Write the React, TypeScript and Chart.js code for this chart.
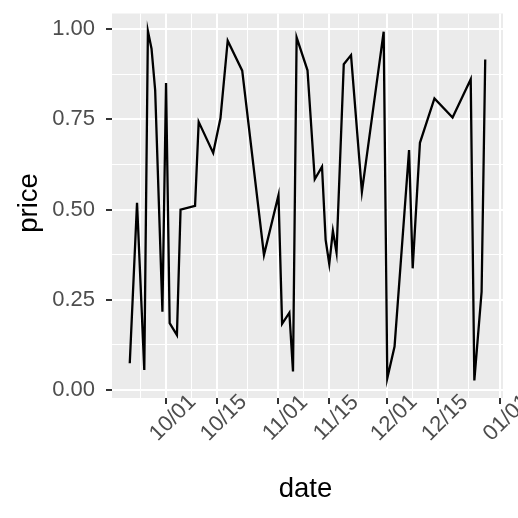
import React, { useEffect, useRef } from "react";
import { Chart, registerables } from "chart.js";

Chart.register(...registerables);

// ---- data ----
const dates: string[] = [
  "2023-09-21", "2023-09-23", "2023-09-25", "2023-09-26", "2023-09-27", "2023-09-28",
  "2023-09-30", "2023-10-01", "2023-10-02", "2023-10-04", "2023-10-05", "2023-10-09",
  "2023-10-10", "2023-10-14", "2023-10-16", "2023-10-18", "2023-10-22", "2023-10-28",
  "2023-11-01", "2023-11-02", "2023-11-04", "2023-11-05", "2023-11-06", "2023-11-09",
  "2023-11-11", "2023-11-13", "2023-11-14", "2023-11-15", "2023-11-16", "2023-11-17",
  "2023-11-19", "2023-11-21", "2023-11-24", "2023-11-30", "2023-12-01", "2023-12-03",
  "2023-12-07", "2023-12-08", "2023-12-10", "2023-12-14", "2023-12-19", "2023-12-24",
  "2023-12-25", "2023-12-27", "2023-12-28",
];
const prices: number[] = [
  0.074, 0.519, 0.055, 0.995, 0.946, 0.831,
  0.217, 0.851, 0.185, 0.152, 0.500, 0.510,
  0.743, 0.657, 0.753, 0.968, 0.885, 0.374,
  0.540, 0.183, 0.214, 0.051, 0.977, 0.886,
  0.584, 0.619, 0.416, 0.349, 0.441, 0.381,
  0.903, 0.928, 0.549, 0.993, 0.032, 0.120,
  0.665, 0.337, 0.685, 0.808, 0.755, 0.861,
  0.026, 0.272, 0.916,
];
const xMajorDates: string[] = [
  "2023-10-01", "2023-10-15", "2023-11-01", "2023-11-15", "2023-12-01", "2023-12-15", "2024-01-01",
];
const xMajorLabels: string[] = ["10/01", "10/15", "11/01", "11/15", "12/01", "12/15", "01/01"];
const yMajor: number[] = [0, 0.25, 0.5, 0.75, 1.0];
const yMinor: number[] = [0.125, 0.375, 0.625, 0.875];
const xTitle = "date";
const yTitle = "price";

const FONT = '"Liberation Sans", Arial, Helvetica, sans-serif';
const BASE = Date.UTC(2023, 9, 1);
const toDay = (s: string) => {
  const [y, m, d] = s.split("-").map(Number);
  return (Date.UTC(y, m - 1, d) - BASE) / 86400000;
};

export default function App() {
  const ref = useRef<HTMLCanvasElement>(null);
  useEffect(() => {
    document.body.style.margin = "0";
    const canvas = ref.current!;
    const xs = dates.map(toDay);
    const xMajor = xMajorDates.map(toDay);
    // ggplot-like minor breaks: midpoints, extended by the first break spacing
    const bd = xMajor[1] - xMajor[0];
    const ext = [xMajor[0] - bd, ...xMajor];
    const xMinor: number[] = [];
    for (let i = 0; i < ext.length - 1; i++) xMinor.push((ext[i] + ext[i + 1]) / 2);

    const xmin0 = Math.min(...xs), xmax0 = Math.max(...xs);
    const ymin0 = Math.min(...prices), ymax0 = Math.max(...prices);
    const xe = (xmax0 - xmin0) * 0.05, ye = (ymax0 - ymin0) * 0.05;
    const xMin = xmin0 - xe, xMax = xmax0 + xe, yMin = ymin0 - ye, yMax = ymax0 + ye;

    const isMajor = (arr: number[], v: number) => arr.some((a) => Math.abs(a - v) < 1e-6);

    const bgPlugin = {
      id: "panelbg",
      beforeDraw(chart: any) {
        const { ctx, chartArea: a } = chart;
        ctx.save();
        ctx.fillStyle = "#ebebeb";
        ctx.fillRect(a.left, a.top, a.right - a.left, a.bottom - a.top);
        ctx.restore();
      },
      afterDraw(chart: any) {
        const { ctx, chartArea: a } = chart;
        const xs = chart.scales.x;
        ctx.save();
        ctx.fillStyle = "#4d4d4d";
        ctx.font = `22px ${FONT}`;
        ctx.textAlign = "center";
        ctx.textBaseline = "middle";
        xMajor.forEach((v, i) => {
          if (v < xMin || v > xMax) return;
          const px = xs.getPixelForValue(v);
          ctx.save();
          ctx.translate(px + 7, 418);
          ctx.rotate(-Math.PI / 4);
          ctx.fillText(xMajorLabels[i], 0, 0);
          ctx.restore();
        });
        ctx.fillStyle = "#000000";
        ctx.font = `27.5px ${FONT}`;
        ctx.textBaseline = "alphabetic";
        ctx.fillText(xTitle, (a.left + a.right) / 2 - 2, 497);
        ctx.save();
        ctx.translate(36.5, 203);
        ctx.rotate(-Math.PI / 2);
        ctx.fillText(yTitle, 0, 0);
        ctx.restore();
        ctx.restore();
      },
    };

    const chart = new Chart(canvas, {
      type: "line",
      data: {
        datasets: [
          {
            data: xs.map((x, i) => ({ x, y: prices[i] })),
            borderColor: "#000000",
            borderWidth: 2.3,
            pointRadius: 0,
            tension: 0,
            fill: false,
          },
        ],
      },
      options: {
        responsive: false,
        animation: false,
        layout: { padding: { top: 13.5, right: 15, left: 0, bottom: 0 } },
        plugins: { legend: { display: false }, tooltip: { enabled: false } },
        scales: {
          x: {
            type: "linear",
            min: xMin,
            max: xMax,
            afterBuildTicks: (s: any) => {
              s.ticks = [...xMajor, ...xMinor]
                .filter((v) => v >= xMin && v <= xMax)
                .sort((p, q) => p - q)
                .map((v) => ({ value: v }));
            },
            afterFit: (s: any) => {
              s.height = 120;
              s.paddingLeft = 0;
              s.paddingRight = 0;
            },
            border: { display: false },
            grid: {
              color: "#ffffff",
              lineWidth: (c: any) => (isMajor(xMajor, c.tick?.value) ? 2 : 1),
              drawTicks: true,
              tickLength: 6,
              tickWidth: 2,
              tickColor: (c: any) => (isMajor(xMajor, c.tick?.value) ? "#333333" : "rgba(0,0,0,0)"),
            },
            ticks: { display: false, autoSkip: false },
          },
          y: {
            type: "linear",
            min: yMin,
            max: yMax,
            afterBuildTicks: (s: any) => {
              s.ticks = [...yMajor, ...yMinor]
                .filter((v) => v >= yMin && v <= yMax)
                .sort((p, q) => p - q)
                .map((v) => ({ value: v }));
            },
            afterFit: (s: any) => {
              s.width = 112;
              s.paddingTop = 0;
              s.paddingBottom = 0;
            },
            border: { display: false },
            grid: {
              color: "#ffffff",
              lineWidth: (c: any) => (isMajor(yMajor, c.tick?.value) ? 2 : 1),
              drawTicks: true,
              tickLength: 6,
              tickWidth: 2,
              tickColor: (c: any) => (isMajor(yMajor, c.tick?.value) ? "#333333" : "rgba(0,0,0,0)"),
            },
            ticks: {
              autoSkip: false,
              padding: 11,
              color: "#4d4d4d",
              font: { family: FONT, size: 22 },
              callback: (v: any) => (isMajor(yMajor, Number(v)) ? Number(v).toFixed(2) : ""),
            },
          },
        },
      },
      plugins: [bgPlugin],
    } as any);
    return () => chart.destroy();
  }, []);
  return (
    <div style={{ position: "absolute", left: 0, top: 0, width: 518, height: 518, background: "#fff" }}>
      <canvas ref={ref} width={518} height={518} style={{ display: "block" }} />
    </div>
  );
}
